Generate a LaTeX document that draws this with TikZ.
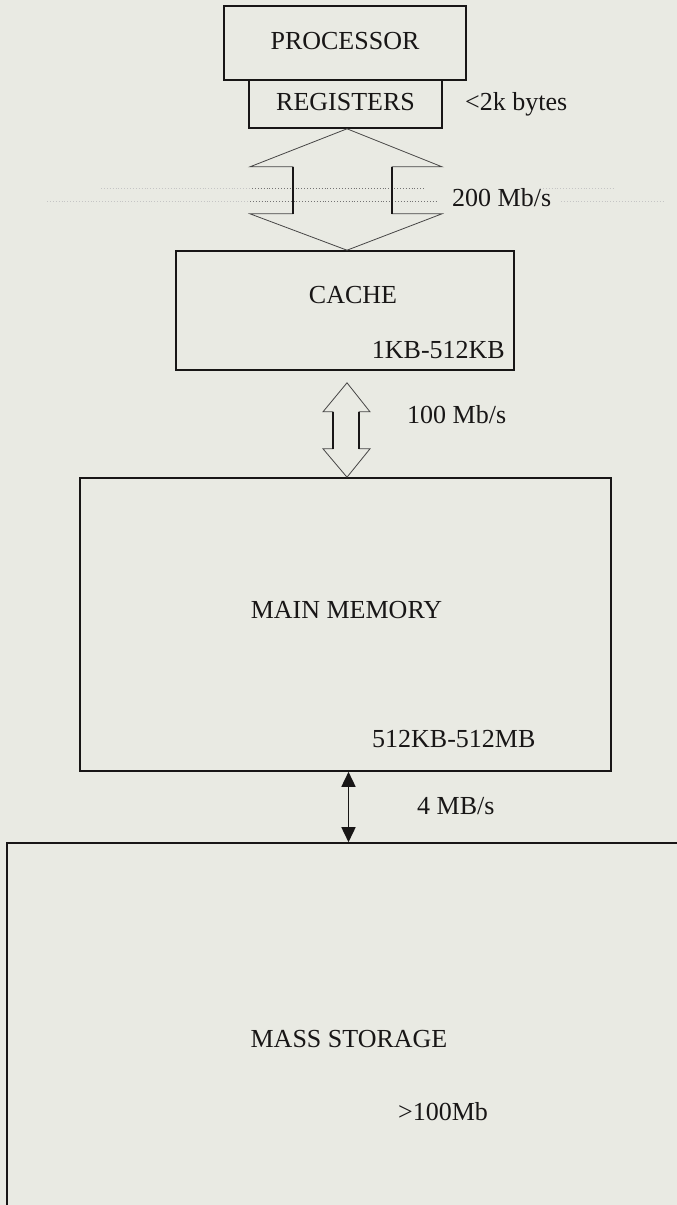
\documentclass[tikz,border=0pt]{standalone}
\usepackage{fontspec}
\setmainfont{Liberation Serif}
\usetikzlibrary{arrows.meta,calc}
\definecolor{bg}{RGB}{233,234,227}
\definecolor{ink}{RGB}{24,22,22}
\tikzset{
  box/.style={draw=ink, line width=1.6pt, inner sep=0pt, fill=none},
  lbl/.style={text=ink, inner sep=0pt, font=\fontsize{26}{30}\selectfont},
  hollow/.style={draw=ink!80, line width=0.8pt, line join=miter},
  shaft/.style={draw=ink, line width=1.8pt},
  dots/.style={draw=ink!60, dotted, line width=0.9pt},
  faintdots/.style={draw=ink!25, dotted, line width=0.9pt},
}
\begin{document}
\begin{tikzpicture}[x=1pt,y=-1pt]
\path[use as bounding box, fill=bg] (0,0) rectangle (677,1205);
\clip (0,0) rectangle (677,1205);

% boxes
\node[box, minimum width=242pt, minimum height=74pt] (proc) at (345,43) {};
\node[box, minimum width=193pt, minimum height=48pt] (reg) at (345.5,104) {};
\node[box, minimum width=338pt, minimum height=119pt] (cache) at (345,310.5) {};
\node[box, minimum width=531pt, minimum height=293pt] (mm) at (345.5,624.5) {};
\node[box, minimum width=683pt, minimum height=400pt] (ms) at (348.5,1043) {};

% texts
\node[lbl, anchor=base] (tproc) at (345,49) {PROCESSOR};
\node[lbl, anchor=base] (treg) at (345.5,110) {REGISTERS};
\node[lbl, anchor=base west] (t2k) at (465,110) {<2k bytes};
\node[lbl, anchor=base west] (t200) at (452,206) {200 Mb/s};
\node[lbl, anchor=base] (tcache) at (353,303) {CACHE};
\node[lbl, anchor=base east] (t1kb) at (505,358) {1KB-512KB};
\node[lbl, anchor=base west] (t100) at (407,423) {100 Mb/s};
\node[lbl, anchor=base] (tmm) at (346.5,618) {MAIN MEMORY};
\node[lbl, anchor=base west] (t512) at (372,747) {512KB-512MB};
\node[lbl, anchor=base west] (t4) at (417,814) {4 MB/s};
\node[lbl, anchor=base] (tms) at (349,1047) {MASS STORAGE};
\node[lbl, anchor=base west] (t100mb) at (398,1120) {>100Mb};

% dotted lines across the wide arrow
\draw[faintdots] (101,188) -- (252,188);
\draw[faintdots] (47,201) -- (250,201);
\draw[faintdots] (540,188) -- (613,188);
\draw[faintdots] (561,201) -- (665,201);
\draw[dots] (252,188) -- (425,188);
\draw[dots] (250,201) -- (438,201);

% wide hollow double arrow registers <-> cache
\coordinate (A) at ($(reg.south)+(1.5,0)$);
\coordinate (Ab) at ($(cache.north)+(2,0)$);
\draw[hollow] (A) -- ($(A)+(-97,38)$) -- ($(A)+(-54,38)$) -- ($(A)+(-54,85)$)
  -- ($(A)+(-97,85)$) -- (Ab) -- ($(A)+(95,85)$) -- ($(A)+(45,85)$)
  -- ($(A)+(45,38)$) -- ($(A)+(95,38)$) -- cycle;
\draw[shaft] ($(A)+(-54,38)$) -- ($(A)+(-54,85)$);
\draw[shaft] ($(A)+(45,38)$) -- ($(A)+(45,85)$);

% narrow hollow double arrow cache <-> main memory
\coordinate (B) at ($(cache.south)+(2,12)$);
\coordinate (Bb) at ($(mm.north)+(1.5,0)$);
\draw[hollow] (B) -- ($(B)+(-24,29)$) -- ($(B)+(-14,29)$) -- ($(B)+(-14,66)$)
  -- ($(B)+(-24,66)$) -- (Bb) -- ($(B)+(23,66)$) -- ($(B)+(12,66)$)
  -- ($(B)+(12,29)$) -- ($(B)+(23,29)$) -- cycle;
\draw[shaft] ($(B)+(-14,29)$) -- ($(B)+(-14,66)$);
\draw[shaft] ($(B)+(12,29)$) -- ($(B)+(12,66)$);

% solid double arrow main memory <-> mass storage
\draw[draw=ink, line width=1.6pt,
  {Triangle[length=15pt,width=14pt]}-{Triangle[length=15pt,width=14pt]}]
  (mm.south -| ms.north) -- (ms.north);
\end{tikzpicture}
\end{document}
